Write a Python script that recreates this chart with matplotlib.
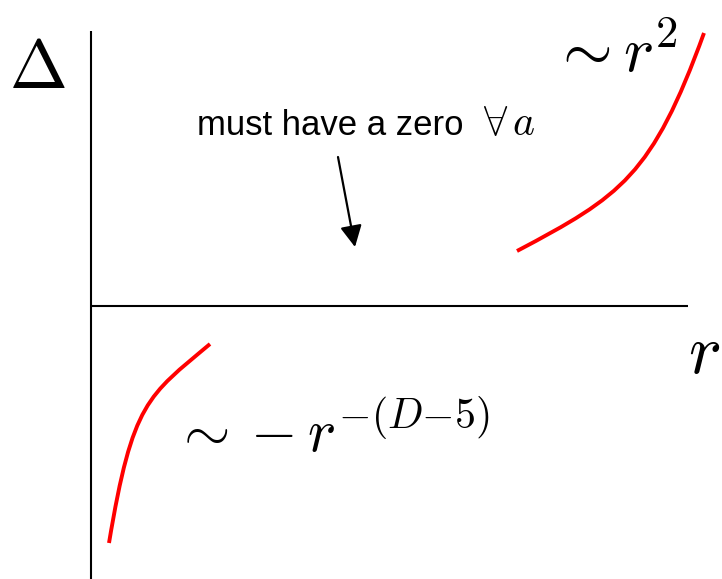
#!/usr/bin/env python3
# -*- coding: utf-8 -*-

import matplotlib
matplotlib.use("Agg")
import matplotlib.pyplot as plt
from matplotlib.path import Path
from matplotlib.patches import PathPatch

# sketch coordinates: r to the right, Delta up, origin where the axes cross
R_LIM = (-91, 631)
D_LIM = (-273, 306)

R_AXIS_END = 597
D_AXIS_TOP = 275

# large-r branch, Delta ~ r^2 (cubic bezier: start, two controls, end)
r_up = [426, 530, 561, 613]
d_up = [55, 110, 130, 273]

# small-r branch, Delta ~ -r^{-(D-5)}
r_lo = [18, 41.6, 56.7, 119]
d_lo = [-237, -95.4, -90.3, -38]

# arrow pointing at the zero crossing
arrow_tail = (247, 149)
arrow_head = (264, 59)

plt.rcParams["mathtext.fontset"] = "cm"


def bezier(ax, rs, ds):
    verts = list(zip(rs, ds))
    codes = [Path.MOVETO, Path.CURVE4, Path.CURVE4, Path.CURVE4]
    ax.add_patch(PathPatch(Path(verts, codes), facecolor="none",
                           edgecolor="#ff0000", lw=2.8, capstyle="butt"))


fig = plt.figure(figsize=(7.22, 5.79), dpi=100)
ax = fig.add_axes([0, 0, 1, 1])
ax.set_xlim(*R_LIM)
ax.set_ylim(*D_LIM)
ax.axis("off")

# axes
ax.plot([0, 0], [D_LIM[0], D_AXIS_TOP], color="black", lw=1.5, solid_capstyle="butt")
ax.plot([0, R_AXIS_END], [0, 0], color="black", lw=1.5, solid_capstyle="butt")

# asymptotic branches
bezier(ax, r_up, d_up)
bezier(ax, r_lo, d_lo)

# labels
ax.text(-54, 237, r"$\Delta$", fontsize=50, ha="center", va="center")
ax.text(597, -67, r"$r$", fontsize=50, ha="left", va="baseline")
ax.text(460, 234, r"$\sim r^2$", fontsize=46, ha="left", va="baseline")
ax.text(82, -146, r"$\sim -r^{-(D{-}5)}$", fontsize=43, ha="left", va="baseline")
ax.text(106, 171, "must have a zero", fontsize=25,
        family="Liberation Sans", ha="left", va="baseline")
ax.text(392, 171, r"$\forall\, a$", fontsize=30, ha="left", va="baseline")

ax.annotate("", xy=arrow_head, xytext=arrow_tail,
            arrowprops=dict(arrowstyle="-|>,head_length=0.65,head_width=0.33",
                            mutation_scale=20, color="black", lw=1.6,
                            shrinkA=0, shrinkB=0))

fig.savefig("out.png", dpi=100)
